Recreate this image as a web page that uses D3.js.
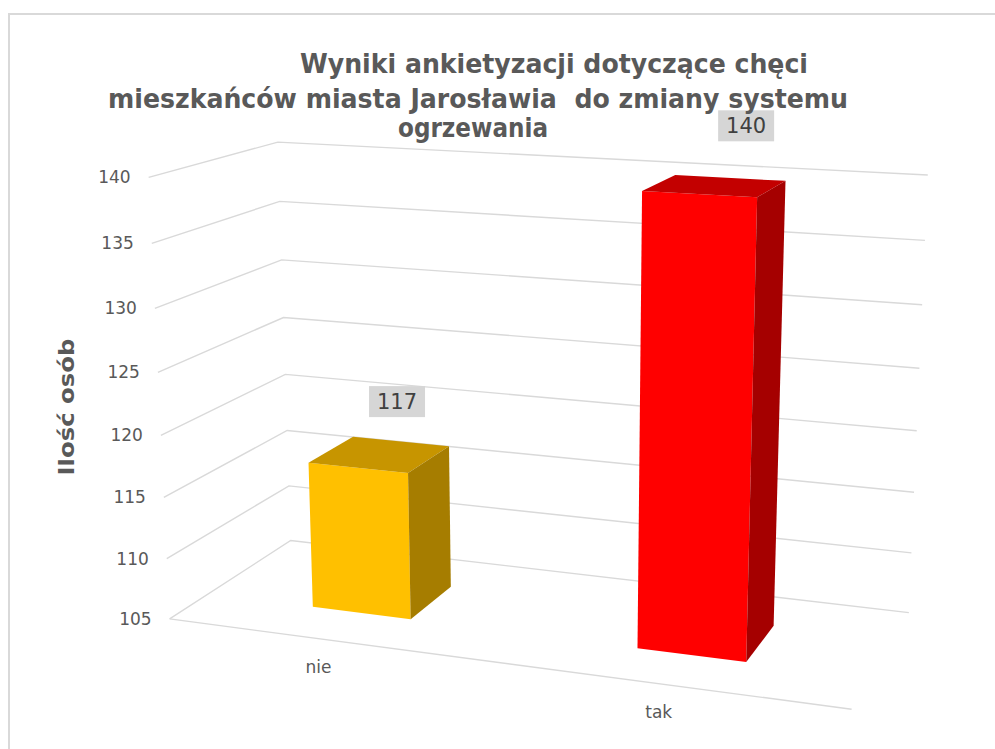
<!DOCTYPE html>
<html>
<head>
<meta charset="utf-8">
<script src="https://cdn.jsdelivr.net/npm/d3@7"></script>
<style>
  body { margin: 0; background: #fff; }
  text { font-family: "DejaVu Sans", Verdana, sans-serif; white-space: pre; }
</style>
</head>
<body>
<div id="chart"></div>
<script>
// data
var categories = ["nie", "tak"];
var values = [117, 140];
var yTicks = [105, 110, 115, 120, 125, 130, 135, 140];
var titleLines = ["Wyniki ankietyzacji dotyczące chęci",
                  "mieszkańców miasta Jarosławia  do zmiany systemu",
                  "ogrzewania"];
var yTitle = "Ilość osób";

var faceColor = {
  nie: {front: "#FFC000", top: "#C79500", side: "#A67D00"},
  tak: {front: "#FF0000", top: "#C30000", side: "#A50000"}
};

// 3d box: x across categories 0..1, y value 0..1, z depth 0 (front) .. 1 (back)
// camera (perspective projection matrix, fitted to the excel view)
var P = [593.686, -28.6459, 153.869, 169.633,
         16.7544, -450.674, -17.3864, 618.914,
         -0.103673, -0.0514776, 0.112860, 1];
function proj(x, y, z) {
  var w = P[8]*x + P[9]*y + P[10]*z + P[11];
  return [(P[0]*x + P[1]*y + P[2]*z + P[3]) / w,
          (P[4]*x + P[5]*y + P[6]*z + P[7]) / w];
}

var x = d3.scaleBand().domain(categories).range([0, 1])
  .paddingInner(0.6875).paddingOuter(0.34375);
var y = d3.scaleLinear().domain([105, 140]).range([0, 1]);
var zBar = [0.3, 0.69];

var svg = d3.select("#chart").append("svg").attr("width", 995).attr("height", 749);

// chart area border
svg.append("rect").attr("x", 9).attr("y", 14).attr("width", 1000).attr("height", 800)
  .attr("fill", "#fff").attr("stroke", "#d9d9d9").attr("stroke-width", 2);

var line = d3.line();

// gridlines: side wall + back wall
svg.append("g").selectAll("path").data(yTicks).join("path")
  .attr("d", function(t){ return line([proj(0, y(t), 0), proj(0, y(t), 1), proj(1, y(t), 1)]); })
  .attr("fill", "none").attr("stroke", "#d9d9d9").attr("stroke-width", 1.4);

// floor front edge (category axis)
svg.append("path")
  .attr("d", line([proj(0, 0, 0), proj(1, 0, 0)]))
  .attr("fill", "none").attr("stroke", "#d9d9d9").attr("stroke-width", 1.4);

// tick labels
svg.append("g").selectAll("text").data(yTicks).join("text")
  .attr("x", function(t){ return proj(0, y(t), 0)[0] - 18; })
  .attr("y", function(t){ return proj(0, y(t), 0)[1]; })
  .attr("dy", "0.35em")
  .attr("text-anchor", "end")
  .attr("font-size", 17).attr("fill", "#595959")
  .text(function(t){ return t; });

// bars
var bars = svg.append("g").selectAll("g").data(categories).join("g");
bars.each(function(c, i){
  var g = d3.select(this);
  var x0 = x(c), x1 = x(c) + x.bandwidth();
  var y0 = y(105), y1 = y(values[i]);
  var z0 = zBar[0], z1 = zBar[1];
  var front = [proj(x0,y0,z0), proj(x1,y0,z0), proj(x1,y1,z0), proj(x0,y1,z0)];
  var top = [proj(x0,y1,z0), proj(x1,y1,z0), proj(x1,y1,z1), proj(x0,y1,z1)];
  var side = [proj(x1,y0,z0), proj(x1,y0,z1), proj(x1,y1,z1), proj(x1,y1,z0)];
  g.append("path").attr("d", line(front) + "Z").attr("fill", faceColor[c].front);
  g.append("path").attr("d", line(top) + "Z").attr("fill", faceColor[c].top);
  g.append("path").attr("d", line(side) + "Z").attr("fill", faceColor[c].side);
});

// data labels
var labels = svg.append("g").selectAll("g").data(categories).join("g")
  .attr("transform", function(c, i){
    var p = proj(x(c) + x.bandwidth(), y(values[i]), zBar[0]);
    return "translate(" + (p[0] - 11) + "," + (p[1] - 72) + ")";
  });
labels.append("rect").attr("x", -28).attr("y", -15).attr("width", 56).attr("height", 31)
  .attr("fill", "#d6d6d6");
labels.append("text").attr("text-anchor", "middle").attr("dy", "0.36em")
  .attr("font-size", 21).attr("fill", "#404040")
  .text(function(c, i){ return values[i]; });

// category labels
svg.append("g").selectAll("text").data(categories).join("text")
  .attr("x", function(c){ return proj(x(c) + x.bandwidth()/2, 0, 0)[0] - 8; })
  .attr("y", function(c){ return proj(x(c) + x.bandwidth()/2, 0, 0)[1] + 27; })
  .attr("dy", "0.35em")
  .attr("text-anchor", "middle")
  .attr("font-size", 17).attr("fill", "#595959")
  .text(function(c){ return c; });

// axis title
svg.append("text")
  .attr("transform", "translate(74,407) rotate(-90)")
  .attr("text-anchor", "middle")
  .attr("font-size", 22).attr("font-weight", "bold").attr("fill", "#595959")
  .attr("textLength", 137).attr("lengthAdjust", "spacingAndGlyphs")
  .text(yTitle);

// chart title
var titlePos = [[554, 73, 508], [478, 108, 740], [473, 137, 150]];
svg.append("g").selectAll("text").data(titleLines).join("text")
  .attr("x", function(d, i){ return titlePos[i][0]; })
  .attr("y", function(d, i){ return titlePos[i][1]; })
  .attr("text-anchor", "middle")
  .attr("font-size", 26).attr("font-weight", "bold").attr("fill", "#595959")
  .attr("textLength", function(d, i){ return titlePos[i][2]; })
  .attr("lengthAdjust", "spacingAndGlyphs")
  .text(function(d){ return d; });
</script>
</body>
</html>
